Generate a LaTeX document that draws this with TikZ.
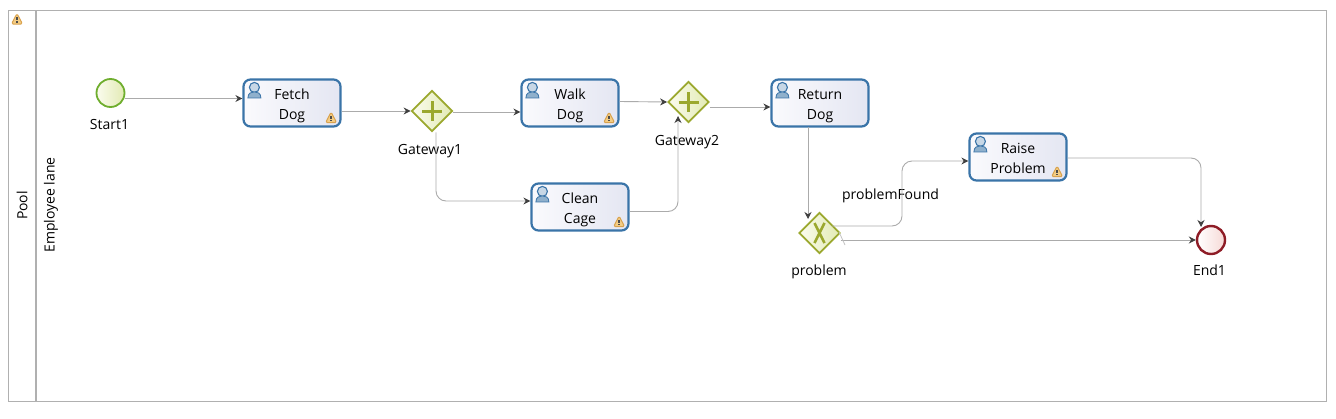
\documentclass[tikz,border=0pt]{standalone}
\usepackage{fontspec}
\setmainfont{Open Sans}
\usetikzlibrary{arrows.meta,shapes.geometric,calc}
\definecolor{taskblue}{HTML}{3A74A8}
\definecolor{iconblue}{HTML}{8FB0CC}
\definecolor{flowgray}{HTML}{ABABAB}
\definecolor{poolgray}{HTML}{B0B0B0}
\definecolor{gwgreen}{HTML}{9BA82E}
\definecolor{startgreen}{HTML}{6FAE2E}
\definecolor{endred}{HTML}{8E1C26}
\definecolor{taskA}{HTML}{FAFAFD}
\definecolor{taskB}{HTML}{E4E6F2}
\definecolor{gateA}{HTML}{FBFCEE}
\definecolor{gateB}{HTML}{E2EAB4}
\definecolor{endB}{HTML}{F6D9D6}
\definecolor{warnfill}{HTML}{F3CC84}
\definecolor{warnedge}{HTML}{D9A24E}
\newcommand{\tasktext}[2]{\rule{0pt}{16pt}#1\\#2\rule[-4pt]{0pt}{4pt}}
\tikzset{
 x=1pt,y=-1pt,
 every node/.style={font=\fontsize{14}{20}\selectfont,text=black,inner sep=0pt},
 lbl/.style={anchor=base},
 taskbox/.style={draw=taskblue,line width=2.2pt,rounded corners=7pt,minimum width=97pt,minimum height=47pt,align=center,
   shading angle=135,left color=taskA,right color=taskB,text=black},
 startev/.style={circle,draw=startgreen,line width=1.8pt,minimum size=28pt,shading angle=135,left color=gateA,right color=gateB},
 endev/.style={circle,draw=endred,line width=2.4pt,minimum size=28pt,shading angle=135,left color=white,right color=endB},
 gate/.style={diamond,aspect=1,draw=gwgreen,line width=1.8pt,minimum size=41pt,shading angle=135,left color=gateA,right color=gateB},
 flow/.style={draw=flowgray,line width=.9pt,rounded corners=10pt,-{Stealth[length=7pt,width=7pt,black!75]}},
 warnicon/.pic={
  \draw[fill=warnfill,draw=warnedge,line width=1pt,line join=round,rounded corners=1.5pt] (-5.5,5)--(0,-5.5)--(5.5,5)--cycle;
  \fill[black!70] (-.8,-1.8) rectangle (.8,1); \fill[black!70] (-.8,2.2) rectangle (.8,3.8);
 },
 usericon/.pic={
  \draw[fill=iconblue!50!white,draw=taskblue,line width=1.1pt] (0,0) circle (5);
  \draw[fill=iconblue,draw=taskblue,line width=.8pt] (-6.5,10.5) .. controls (-6.5,5.5) and (-3,4.5) .. (0,4.5) .. controls (3,4.5) and (6.5,5.5) .. (6.5,10.5) -- cycle;
 }
}
\begin{document}
\begin{tikzpicture}
\useasboundingbox (0,0) rectangle (1336,418);
\fill[white] (0,0) rectangle (1336,418);
\draw[poolgray,line width=1pt] (8.5,10.5) rectangle (1326.5,401.5);
\draw[poolgray,line width=2pt] (36,10.5) -- (36,401.5);
\node[rotate=90] (pool) at (22,205.5) {Pool};
\node[rotate=90] (lane) at (51,205) {Employee lane};
\pic at (17,19) {warnicon};

\node[startev] (start) at (110.5,93) {};
\node[lbl] (startl) at (109.5,129) {Start1};
\node[taskbox] (fetch) at (292,103) {\tasktext{Fetch}{Dog}};
\node[gate] (g1) at (432,111) {};
\node[lbl] (g1l) at (430,154) {Gateway1};
\node[taskbox] (walk) at (570,103) {\tasktext{Walk}{Dog}};
\node[gate] (g2) at (688.5,102) {};
\node[lbl] (g2l) at (687,145) {Gateway2};
\node[taskbox] (ret) at (820,103) {\tasktext{Return}{Dog}};
\node[taskbox] (clean) at (580,207) {\tasktext{Clean}{Cage}};
\node[gate] (g3) at (819.5,233) {};
\node[lbl] (g3l) at (819,275.5) {problem};
\node[taskbox] (raise) at (1018,157) {\tasktext{Raise}{Problem}};
\node[endev] (endn) at (1211,240) {};
\node[lbl] (endl) at (1209.5,275.5) {End1};
\node[lbl] (pf) at (890.5,199) {problemFound};

\foreach \g in {g1,g2}{
 \draw[gwgreen,line width=3pt] ($(\g)+(-10,0)$) -- ($(\g)+(10,0)$) ($(\g)+(0,-10)$) -- ($(\g)+(0,10)$);
}
\draw[gwgreen,line width=2.6pt] ($(g3)+(-5,-10)$) -- ($(g3)+(5,10)$) ($(g3)+(5,-10)$) -- ($(g3)+(-5,10)$);

\foreach \t in {fetch,walk,ret,clean,raise}{
 \pic at ($(\t.north west)+(12,9)$) {usericon};
}
\foreach \t in {fetch,walk,clean,raise}{
 \pic at ($(\t.south east)+(-10.5,-10)$) {warnicon};
}

\draw[flow] ([yshift=-5.5pt]start.east) -- ([yshift=4.5pt]fetch.west);
\draw[flow] (fetch.east |- g1) -- (g1.west);
\draw[flow] ([yshift=-1pt]g1.east) -- ([yshift=-9pt]walk.west);
\draw[flow] (g1.south -| 436,0) -- (436,201) -- ([yshift=6pt]clean.west);
\draw[flow] ([yshift=-4.5pt]clean.east) -- (678,211.5) -- (678,116);
\draw[flow] ([yshift=1.5pt]walk.east) -- (g2.west);
\draw[flow] ([yshift=-5pt]g2.east) -- ([yshift=-4pt]ret.west);
\draw[flow] (808,127) -- (808,219);
\draw[flow] (832,226) -- (902,226) -- (902,161) -- ([yshift=-4pt]raise.west);
\draw[flow] (g3.east |- endn) -- (endn.west);
\draw[flow] ([yshift=-1pt]raise.east) -- (1201,158) -- (1201,227);
\draw[flowgray!70,line width=.8pt] (839,232) -- (845,245);
\end{tikzpicture}
\end{document}
